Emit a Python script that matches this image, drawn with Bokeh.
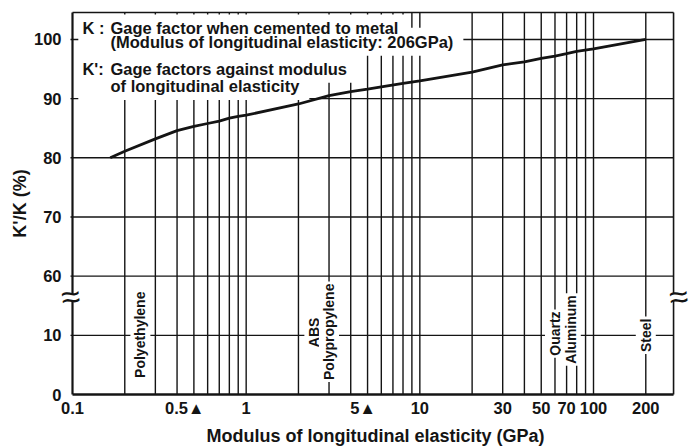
import numpy as np
from bokeh.plotting import figure
from bokeh.models import Range1d, FixedTicker, Label, BoxAnnotation
from bokeh.embed import file_html
from bokeh.resources import INLINE

# ---------------- data ----------------
modulus_gpa = [0.165, 0.2, 0.3, 0.4, 0.5, 0.6, 0.7, 0.8, 0.9, 1, 2, 3, 4, 5, 6, 8, 10,
               20, 30, 40, 50, 60, 70, 80, 100, 200]
ratio_pct = [80.0, 81.1, 83.2, 84.6, 85.3, 85.8, 86.2, 86.7, 87.0, 87.2, 89.1, 90.5, 91.2,
             91.6, 92.0, 92.6, 93.0, 94.5, 95.7, 96.2, 96.8, 97.2, 97.6, 98.0, 98.4, 100.0]

x_tick_values = [0.1, 0.5, 1, 5, 10, 30, 50, 70, 100, 200]
x_tick_labels = ["0.1", "0.5\u25B2\u2007\u2007", "1", "5\u25B2\u2007", "10", "30", "50",
                 "70", "100", "200"]
grid_x = [0.2, 0.3, 0.4, 0.5, 0.6, 0.7, 0.8, 0.9,
          1, 2, 3, 4, 5, 6, 7, 8, 9,
          10, 20, 30, 40, 50, 60, 70, 80, 90, 100, 200]

y_tick_values = [0, 10, 60, 70, 80, 90, 100]   # broken axis: 10 -> 60 gap

materials = ["Polyethylene", "ABS", "Polypropylene", "Quartz", "Aluminum", "Steel"]
material_modulus = [0.246, 2.47, 3, 60, 74, 200]
material_ratio = [10.1, 10.5, 10.6, 10.3, 11.0, 10.0]

legend_rows = [
    ("K :", "Gage factor when cemented to metal"),
    ("", "(Modulus of longitudinal elasticity: 206GPa)"),
    ("K':", "Gage factors against modulus"),
    ("", "of longitudinal elasticity"),
]


def to_axis(v):
    """Map a K'/K value onto the broken (0-10 | 60-100) axis."""
    return v / 10.0 if v < 35 else 2.0 + (v - 60.0) / 10.0


FONT = "Liberation Sans"
INK = "#141414"
PX_X = 173.67            # pixels per decade
PX_Y = 59.17             # pixels per axis step
X_MIN, X_MAX = 0.1, 289  # plot box
Y_TOP = 6.456
FRAME_L = 10 ** (-1 - 16 / PX_X)
FRAME_R = 10 ** (-1 + 622 / PX_X)

p = figure(width=696, height=448, x_axis_type="log",
           x_range=Range1d(FRAME_L, FRAME_R),
           y_range=Range1d(-2 / PX_Y, Y_TOP + 2 / PX_Y),
           output_backend="svg", toolbar_location=None,
           min_border_left=56, min_border_right=2, min_border_top=10, min_border_bottom=52)
p.background_fill_color = "white"
p.border_fill_color = "white"
p.outline_line_color = None
p.xgrid.visible = False
p.ygrid.visible = False

# ---- grid lines, bounded to the plot box ----
grid_y = [to_axis(v) for v in y_tick_values[1:]]
p.segment(x0=grid_x, y0=[0] * len(grid_x), x1=grid_x, y1=[Y_TOP] * len(grid_x),
          line_color=INK, line_width=1.4)
p.segment(x0=[10 ** (-1 - 2 / PX_X)] * len(grid_y), y0=grid_y,
          x1=[X_MAX] * len(grid_y), y1=grid_y, line_color=INK, line_width=1.4)

# ---- plot box: top / right outline, thicker left and bottom axis lines ----
p.segment(x0=[X_MIN, X_MAX], y0=[Y_TOP, 0], x1=[X_MAX, X_MAX], y1=[Y_TOP, Y_TOP],
          line_color=INK, line_width=1.6)
p.segment(x0=[X_MIN], y0=[0], x1=[X_MIN], y1=[Y_TOP], line_color=INK, line_width=2.2)
p.segment(x0=[X_MIN], y0=[0], x1=[X_MAX], y1=[0], line_color=INK, line_width=2.6)

# ---- axes ----
p.xaxis.ticker = FixedTicker(ticks=x_tick_values)
p.xaxis.major_label_overrides = dict(zip(x_tick_values, x_tick_labels))
p.xaxis.axis_line_color = None
p.xaxis.major_tick_line_color = None
p.xaxis.minor_tick_line_color = None
p.xaxis.major_label_standoff = -4
p.xaxis.axis_label = "Modulus of longitudinal elasticity (GPa)"
p.xaxis.axis_label_standoff = 6

p.yaxis.ticker = FixedTicker(ticks=[to_axis(v) for v in y_tick_values])
p.yaxis.major_label_overrides = {to_axis(v): str(v) for v in y_tick_values}
p.yaxis.axis_line_color = None
p.yaxis.major_tick_line_color = None
p.yaxis.minor_tick_line_color = None
p.yaxis.major_label_standoff = -11
p.yaxis.axis_label = "K'/K (%)"
p.yaxis.axis_label_standoff = 1

for ax in (p.xaxis, p.yaxis):
    ax.major_label_text_font = FONT
    ax.major_label_text_font_style = "bold"
    ax.major_label_text_font_size = "16.5px"
    ax.major_label_text_color = INK
    ax.axis_label_text_font = FONT
    ax.axis_label_text_font_style = "bold"
    ax.axis_label_text_font_size = "18px"
    ax.axis_label_text_color = INK

# ---- legend text with white background ----
p.add_layout(BoxAnnotation(left=0.108, right=0.17, bottom=4.96, top=6.40,
                           fill_color="white", fill_alpha=1, line_color=None))
row_y = [6.186, 5.960, 5.507, 5.213]
text_kw = dict(text_font=FONT, text_font_style="bold", text_font_size="16.5px",
               text_baseline="middle", text_align="left")
for pass_no in (0, 1):
    for (key, txt), yy in zip(legend_rows, row_y):
        extra = (dict(background_fill_color="white", padding=5, text_color="white")
                 if pass_no == 0 else dict(text_color=INK))
        if key:
            p.add_layout(Label(x=0.114, y=yy, text=key, **text_kw, **extra))
        p.add_layout(Label(x=0.1655, y=yy, text=txt, **text_kw, **extra))

# ---- material labels (vertical) ----
for name, xm, rv in zip(materials, material_modulus, material_ratio):
    p.add_layout(Label(x=xm, y=to_axis(rv), text=name, angle=np.pi / 2,
                       text_font=FONT, text_font_style="bold", text_font_size="14px",
                       text_color=INK, text_align="center", text_baseline="middle",
                       background_fill_color="white", padding=2))

# ---- axis break marks ----
brk = 1.655
for xb, xo in ((X_MIN, -2), (X_MAX, 5)):
    lx = np.log10(xb)
    p.add_layout(BoxAnnotation(left=10 ** (lx - 5 / PX_X), right=10 ** (lx + 5 / PX_X),
                               bottom=brk - 3.5 / PX_Y, top=brk + 3.5 / PX_Y,
                               fill_color="white", fill_alpha=1, line_color=None))
    p.add_layout(Label(x=xb, y=brk, text="\u2248", x_offset=xo, angle=0.12,
                       text_font=FONT, text_font_size="34px", text_color=INK,
                       text_align="center", text_baseline="middle"))

# ---- curve ----
curve = p.line(modulus_gpa, [to_axis(v) for v in ratio_pct], line_width=2.8,
               line_color=INK)
curve.level = "overlay"

open("out.html", "w").write(file_html(p, INLINE))
